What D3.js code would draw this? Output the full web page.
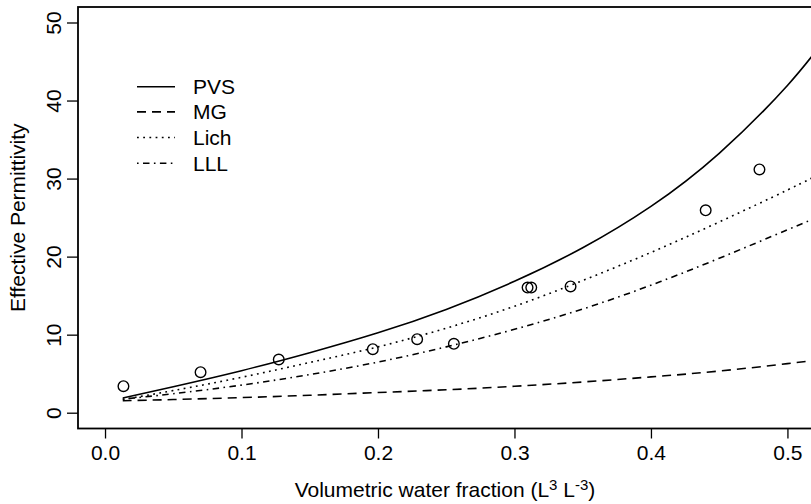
<!DOCTYPE html>
<meta charset="utf-8">
<script src="https://d3js.org/d3.v7.min.js"></script>
<style>
  body { margin: 0; background: #fff; }
  text { font-family: "Liberation Sans", Arial, sans-serif; fill: #000; }
</style>
<body>
<svg width="811" height="504"></svg>
<script>
// measured water content vs permittivity
var obsX = [0.0135, 0.070, 0.1273, 0.1962, 0.2287, 0.2556, 0.3096, 0.3123, 0.3411, 0.4401, 0.4795];
var obsY = [3.46, 5.26, 6.88, 8.2, 9.49, 8.89, 16.1, 16.1, 16.24, 26.0, 31.24];

// model curves
var curveX = [0.013, 0.05, 0.1, 0.15, 0.2, 0.25, 0.3, 0.35, 0.4, 0.45, 0.5, 0.53];
var pvs  = [1.96, 3.4, 5.45, 7.75, 10.3, 13.3, 16.9, 21.2, 26.5, 33.3, 42.0, 48.5];
var mg   = [1.6, 1.75, 2.0, 2.3, 2.65, 3.0, 3.45, 4.0, 4.65, 5.4, 6.35, 7.0];
var lich = [1.75, 2.9, 4.6, 6.5, 8.5, 10.9, 13.7, 17.0, 20.6, 24.5, 28.6, 31.2];
var lll  = [1.8, 2.5, 3.6, 4.95, 6.55, 8.5, 10.75, 13.35, 16.4, 19.85, 23.5, 25.7];

var legendNames = ['PVS', 'MG', 'Lich', 'LLL'];
var dashes = [null, '9,6', '1.8,4.4', '1.6,4.4,6.5,4.4'];
var xTicks = [0, 0.1, 0.2, 0.3, 0.4, 0.5];
var yTicks = [0, 10, 20, 30, 40, 50];

var svg = d3.select('svg');
var fs = '21px';
var pL = 78, pR = 812, pT = 7, pB = 428.5;

var x = d3.scaleLinear().domain([-0.0198, 0.518]).range([pL, pR]);
var y = d3.scaleLinear().domain([-1.96, 52.05]).range([pB, pT]);

svg.append('defs').append('clipPath').attr('id', 'clip')
  .append('rect').attr('x', pL).attr('y', pT).attr('width', pR - pL).attr('height', pB - pT);

// x axis
var xAxis = svg.append('g').attr('transform', 'translate(0,' + pB + ')')
  .call(d3.axisBottom(x).tickValues(xTicks).tickFormat(d3.format('.1f')).tickSize(10).tickPadding(7));
xAxis.select('.domain').remove();
xAxis.selectAll('line').attr('stroke', '#000').attr('stroke-width', 1.3);
xAxis.selectAll('text').style('font-size', fs).attr('fill', '#000');

// y axis, labels turned like R's default
var yAxis = svg.append('g');
yAxis.selectAll('line').data(yTicks).enter().append('line')
  .attr('x1', pL - 11).attr('x2', pL)
  .attr('y1', function(d){ return y(d); }).attr('y2', function(d){ return y(d); })
  .attr('stroke', '#000').attr('stroke-width', 1.3);
yAxis.selectAll('text').data(yTicks).enter().append('text')
  .attr('transform', function(d){ return 'translate(53,' + y(d) + ') rotate(-90)'; })
  .attr('text-anchor', 'middle').attr('dy', '0.36em')
  .style('font-size', fs).text(function(d){ return d; });

// box
svg.append('rect').attr('x', pL).attr('y', pT).attr('width', pR - pL).attr('height', pB - pT)
  .attr('fill', 'none').attr('stroke', '#000').attr('stroke-width', 1.8);

// curves
var line = d3.line().x(function(d){ return x(d[0]); }).y(function(d){ return y(d[1]); }).curve(d3.curveNatural);
var plot = svg.append('g').attr('clip-path', 'url(#clip)');
[pvs, mg, lich, lll].forEach(function(s, i){
  plot.append('path')
    .datum(curveX.map(function(v, k){ return [v, s[k]]; }))
    .attr('d', line)
    .attr('fill', 'none').attr('stroke', '#000').attr('stroke-width', 1.6)
    .attr('stroke-dasharray', dashes[i]);
});

// observations
plot.selectAll('circle').data(obsX).enter().append('circle')
  .attr('cx', function(d){ return x(d); })
  .attr('cy', function(d, i){ return y(obsY[i]); })
  .attr('r', 5.3).attr('fill', 'none').attr('stroke', '#000').attr('stroke-width', 1.4);

// legend
var lg = svg.append('g');
var rowsY = [86.7, 111.9, 137.5, 163.2];
legendNames.forEach(function(n, i){
  lg.append('line').attr('x1', 137).attr('x2', 175).attr('y1', rowsY[i]).attr('y2', rowsY[i])
    .attr('stroke', '#000').attr('stroke-width', 1.6).attr('stroke-dasharray', dashes[i]);
  lg.append('text').attr('x', 193).attr('y', rowsY[i]).attr('dy', '0.36em')
    .style('font-size', fs).text(n);
});

// axis titles
var xt = svg.append('text').attr('x', (pL + pR) / 2).attr('y', 497).attr('text-anchor', 'middle')
  .style('font-size', fs);
xt.append('tspan').text('Volumetric water fraction (L');
xt.append('tspan').attr('dy', -7).style('font-size', '15px').text('3');
xt.append('tspan').attr('dy', 7).text(' L');
xt.append('tspan').attr('dy', -7).style('font-size', '15px').text('-3');
xt.append('tspan').attr('dy', 7).text(')');

svg.append('text').attr('transform', 'translate(25,' + (pT + pB) / 2 + ') rotate(-90)')
  .attr('text-anchor', 'middle').style('font-size', fs).text('Effective Permittivity');
</script>
